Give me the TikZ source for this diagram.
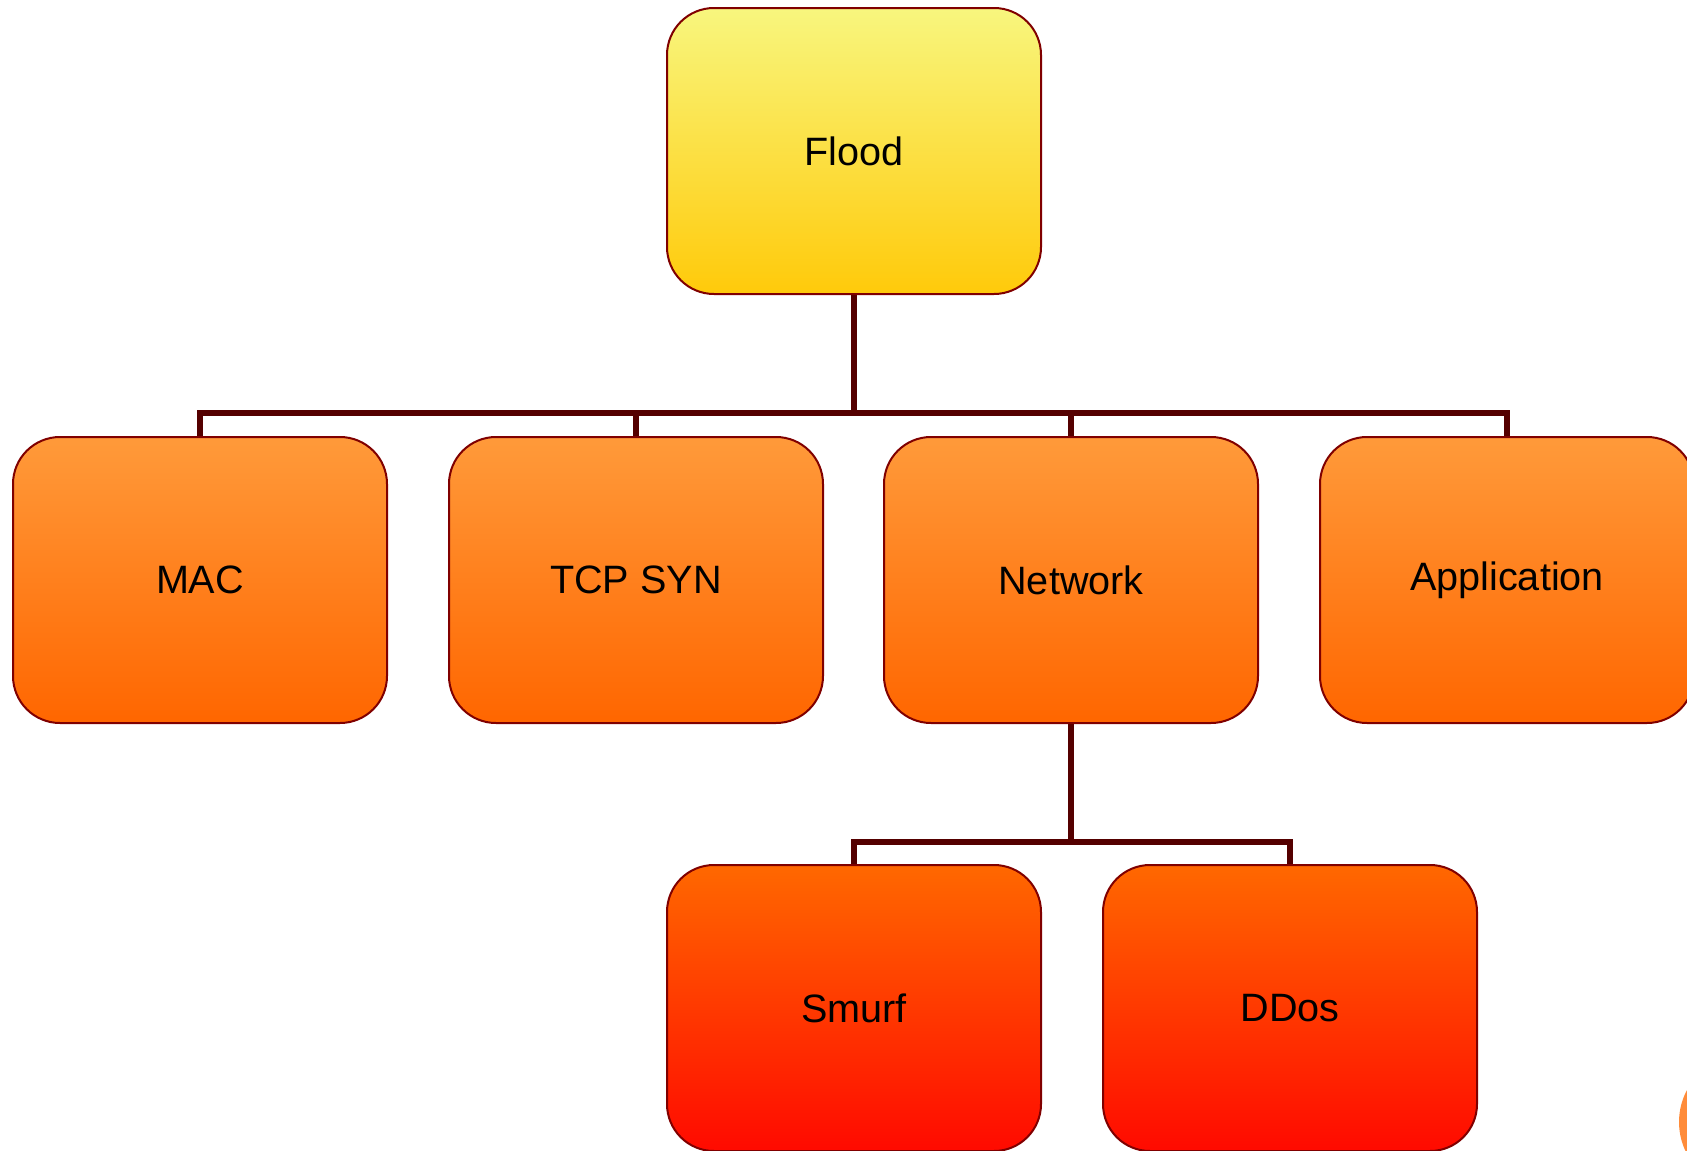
\documentclass[tikz,border=0pt]{standalone}
\usepackage{fontspec}
\setmainfont{Liberation Sans}
\usetikzlibrary{backgrounds}
\definecolor{floodtop}{RGB}{248,246,126}
\definecolor{floodbot}{RGB}{255,202,10}
\definecolor{midtop}{RGB}{255,154,58}
\definecolor{midbot}{RGB}{255,102,0}
\definecolor{lowtop}{RGB}{255,104,0}
\definecolor{lowbot}{RGB}{255,10,0}
\definecolor{boxline}{RGB}{128,0,0}
\definecolor{connline}{RGB}{85,0,0}
\definecolor{dotfill}{RGB}{255,140,58}
\tikzset{
  treebox/.style={draw=boxline, line width=1pt, rounded corners=23.5pt,
    minimum width=187pt, minimum height=143pt, inner sep=0pt,
    font=\fontsize{19.8pt}{24pt}\selectfont, text=black},
  rootbox/.style={treebox, top color=floodtop, bottom color=floodbot},
  midbox/.style={treebox, top color=midtop, bottom color=midbot},
  lowbox/.style={treebox, top color=lowtop, bottom color=lowbot},
  conn/.style={draw=connline, line width=2.6pt, line join=miter}
}
\begin{document}
\begin{tikzpicture}[x=0.5pt, y=-0.5pt]
  \useasboundingbox (0,0) rectangle (1687,1151);
  \clip (0,0) rectangle (1687,1151);

  % root
  \node[rootbox] (flood) at (854,151) {Flood};

  % second level
  \node[midbox] (mac) at (200,580) {MAC};
  \node[midbox] (tcp) at (636,580) {TCP SYN};
  \node[midbox] (net) at (1071,580) {Network};
  \node[midbox] (app) at (1507,580) {Application};

  % third level
  \node[lowbox] (smurf) at (854,1008) {Smurf};
  \node[lowbox] (ddos) at (1290,1008) {DDos};

  % bus levels of the tree
  \coordinate (bustop) at (0,413);
  \coordinate (buslow) at (0,842);

  % elbow connectors, kept behind the boxes
  \begin{pgfonlayer}{background}
    \draw[conn] (flood.south) -- (flood.south |- bustop);
    \foreach \child in {mac,tcp,net,app}
      \draw[conn] (\child.north) -- (\child.north |- bustop) -- (flood.south |- bustop);
    \draw[conn] (net.south) -- (net.south |- buslow);
    \foreach \child in {smurf,ddos}
      \draw[conn] (\child.north) -- (\child.north |- buslow) -- (net.south |- buslow);
  \end{pgfonlayer}

  % corner mark
  \fill[dotfill] (1747,1122) circle (68);
\end{tikzpicture}
\end{document}
